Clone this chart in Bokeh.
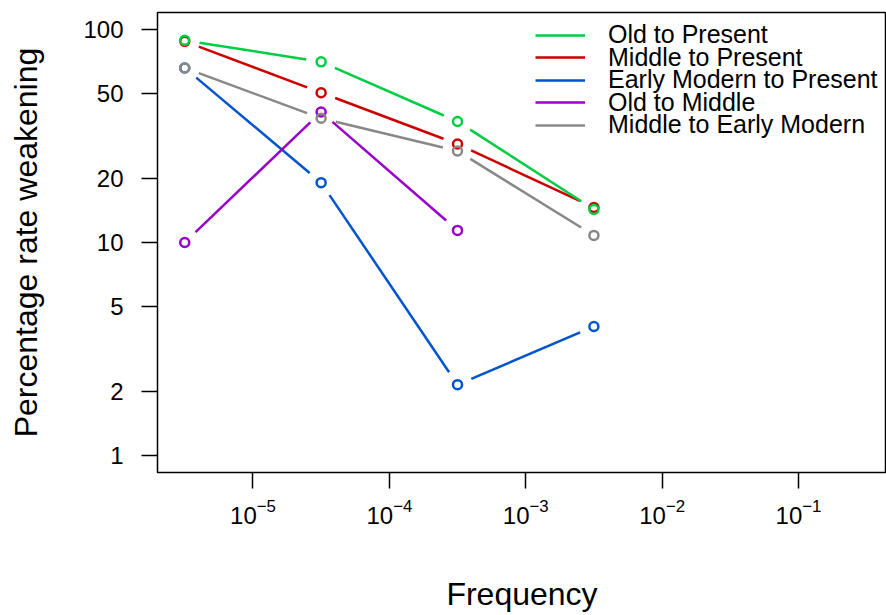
import math
from bokeh.plotting import figure
from bokeh.models import (Range1d, FixedTicker, Legend, LegendItem)
from bokeh.embed import file_html
from bokeh.resources import INLINE

# ---- data ----
freq = [3.16e-6, 3.16e-5, 3.16e-4, 3.16e-3]
old_to_present = [89.0, 70.5, 37.0, 14.3]
middle_to_present = [88.0, 50.5, 29.0, 14.6]
early_modern_to_present = [66.0, 19.1, 2.15, 4.03]
old_to_middle = [10.0, 41.0, 11.4]
middle_to_early_modern = [66.0, 38.3, 26.9, 10.8]

series_names = ["Old to Present", "Middle to Present", "Early Modern to Present",
                "Old to Middle", "Middle to Early Modern"]
series_values = [old_to_present, middle_to_present, early_modern_to_present,
                 old_to_middle, middle_to_early_modern]
series_colors = ["#00CC44", "#CC0000", "#0055CC", "#9900CC", "#888888"]
draw_order = [1, 2, 3, 4, 0]

x_ticks = [1e-5, 1e-4, 1e-3, 1e-2, 1e-1]
y_ticks = [1, 2, 5, 10, 20, 50, 100]
y_tick_labels = ["1", "2", "5", "10", "20", "50", "100"]

# ---- layout ----
W, H = 886, 615
BL, BT, BR = 157, 12, 0
FH = 460
BB = H - BT - FH
FW = W - BL - BR
X0, X1 = 10 ** -5.7, 10 ** -0.355
Y0, Y1 = 10 ** -0.08, 10 ** 2.08
KX = FW / (math.log10(X1) - math.log10(X0))
KY = FH / (math.log10(Y1) - math.log10(Y0))
GAP = 15

FONT = "Liberation Sans"

p = figure(width=W, height=H, x_axis_type="log", y_axis_type="log",
           x_range=Range1d(X0, X1), y_range=Range1d(Y0, Y1),
           output_backend="svg", toolbar_location=None,
           min_border_left=BL, min_border_top=BT, min_border_right=BR,
           min_border_bottom=BB)
p.xgrid.visible = False
p.ygrid.visible = False
p.outline_line_color = "black"
p.outline_line_width = 1.5
p.background_fill_color = "white"
p.border_fill_color = "white"


def gapped_segments(xs, ys):
    x0s, y0s, x1s, y1s = [], [], [], []
    for i in range(len(ys) - 1):
        ax, ay = math.log10(xs[i]) * KX, math.log10(ys[i]) * KY
        bx, by = math.log10(xs[i + 1]) * KX, math.log10(ys[i + 1]) * KY
        d = math.hypot(bx - ax, by - ay)
        f = GAP / d
        sx, sy = ax + f * (bx - ax), ay + f * (by - ay)
        ex, ey = bx - f * (bx - ax), by - f * (by - ay)
        x0s.append(10 ** (sx / KX)); y0s.append(10 ** (sy / KY))
        x1s.append(10 ** (ex / KX)); y1s.append(10 ** (ey / KY))
    return x0s, y0s, x1s, y1s


seg_renderers = {}
for k in draw_order:
    vals, col = series_values[k], series_colors[k]
    xs = freq[:len(vals)]
    x0s, y0s, x1s, y1s = gapped_segments(xs, vals)
    seg = p.segment(x0=x0s, y0=y0s, x1=x1s, y1=y1s, line_color=col,
                    line_width=2.5)
    p.scatter(xs, vals, marker="circle", size=9, fill_color=None,
              line_color=col, line_width=2.5)
    seg_renderers[k] = seg

# legend: one row per Legend so rows can sit tighter than the text height
ROW_PITCH = 22.5
for i, name in enumerate(series_names):
    lg = Legend(items=[LegendItem(label=name, renderers=[seg_renderers[i]])],
                location=(378, 423 - ROW_PITCH * i), padding=0, margin=0,
                border_line_color=None, background_fill_alpha=0,
                glyph_width=50, glyph_height=20, label_height=20, spacing=0,
                label_standoff=23, label_text_font=FONT,
                label_text_font_size="25px", label_text_color="black")
    p.add_layout(lg, "center")

# axes
for ax in (p.xaxis[0], p.yaxis[0]):
    ax.axis_line_color = None
    ax.major_tick_line_color = "black"
    ax.major_tick_line_width = 1.5
    ax.major_tick_out = 16
    ax.major_tick_in = 0
    ax.minor_tick_line_color = None
    ax.major_label_text_font = FONT
    ax.major_label_text_font_size = "24px"
    ax.major_label_text_color = "black"
    ax.axis_label_text_font = FONT
    ax.axis_label_text_font_size = "32px"
    ax.axis_label_text_font_style = "normal"
    ax.axis_label_text_color = "black"

p.xaxis.ticker = FixedTicker(ticks=x_ticks)
p.yaxis.ticker = FixedTicker(ticks=y_ticks)
p.yaxis.major_label_overrides = {t: s for t, s in zip(y_ticks, y_tick_labels)}
p.yaxis.major_label_orientation = "horizontal"
p.xaxis.major_label_standoff = 10
p.yaxis.major_label_standoff = 18
p.xaxis.axis_label = "Frequency"
p.yaxis.axis_label = "Percentage rate weakening"
p.xaxis.axis_label_standoff = 49
p.yaxis.axis_label_standoff = 36

open("out.html", "w").write(file_html(p, INLINE))
